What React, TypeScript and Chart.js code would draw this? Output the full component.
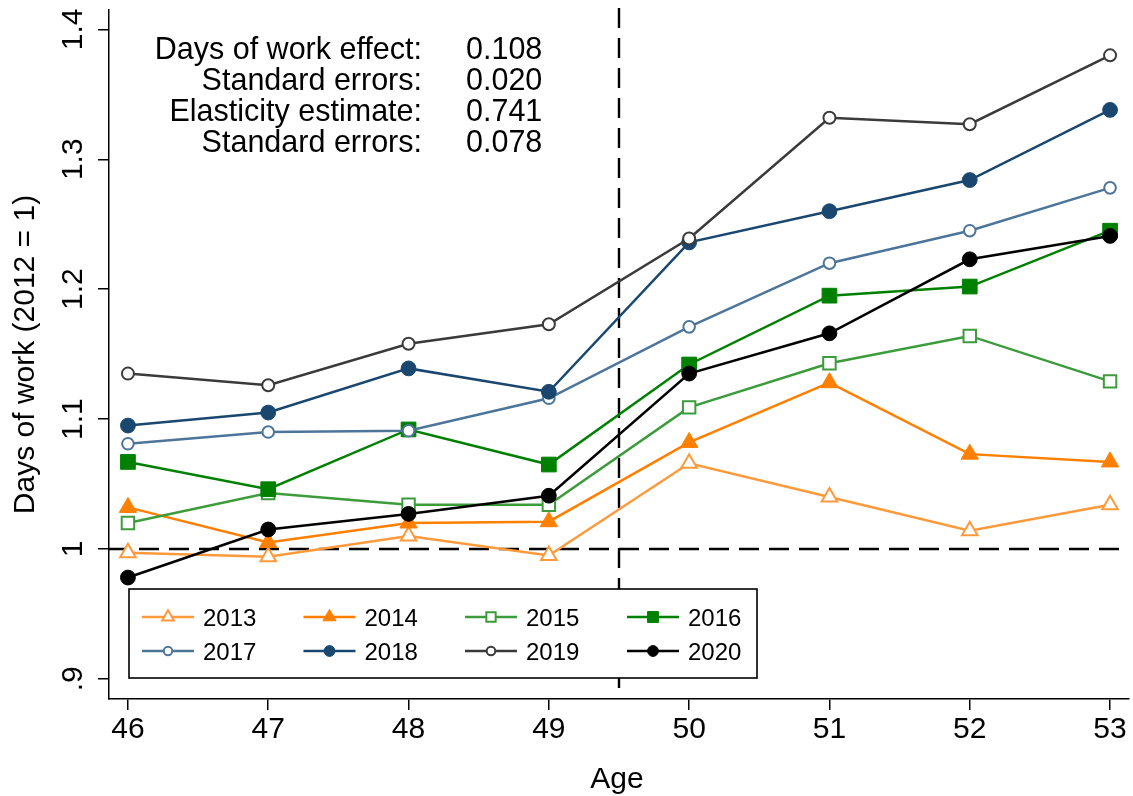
import React, { useEffect, useRef } from "react";
import { Chart, registerables } from "chart.js";

Chart.register(...registerables);

// ---------- data ----------
const ages = [46, 47, 48, 49, 50, 51, 52, 53];
const seriesNames = ["2013", "2014", "2015", "2016", "2017", "2018", "2019", "2020"];
const v2013 = [0.997, 0.994, 1.01, 0.995, 1.066, 1.04, 1.014, 1.034];
const v2014 = [1.032, 1.005, 1.02, 1.021, 1.082, 1.128, 1.073, 1.067];
const v2015 = [1.02, 1.043, 1.034, 1.034, 1.109, 1.143, 1.164, 1.129];
const v2016 = [1.067, 1.046, 1.092, 1.065, 1.142, 1.195, 1.202, 1.245];
const v2017 = [1.081, 1.09, 1.091, 1.116, 1.171, 1.22, 1.245, 1.278];
const v2018 = [1.095, 1.105, 1.139, 1.121, 1.236, 1.26, 1.284, 1.338];
const v2019 = [1.135, 1.126, 1.158, 1.173, 1.239, 1.332, 1.327, 1.38];
const v2020 = [0.978, 1.015, 1.027, 1.041, 1.135, 1.166, 1.223, 1.241];
const seriesValues = [v2013, v2014, v2015, v2016, v2017, v2018, v2019, v2020];

const yTickValues = [0.9, 1, 1.1, 1.2, 1.3, 1.4];
const yTickLabels = [".9", "1", "1.1", "1.2", "1.3", "1.4"];
const xTickValues = ages;
const refLineX = 49.5;
const refLineY = 1;

const statLabels = ["Days of work effect:", "Standard errors:", "Elasticity estimate:", "Standard errors:"];
const statValues = ["0.108", "0.020", "0.741", "0.078"];

const yTitle = "Days of work (2012 = 1)";
const xTitle = "Age";

// ---------- styles ----------
type Shape = "circle" | "rect" | "triangle";
const seriesStyles: { color: string; shape: Shape; filled: boolean; r: number; lr: number }[] = [
  { color: "#ff9a3c", shape: "triangle", filled: false, r: 9, lr: 6.8 },
  { color: "#ff7f00", shape: "triangle", filled: true, r: 10, lr: 7.6 },
  { color: "#3c9c3c", shape: "rect", filled: false, r: 8.8, lr: 6.6 },
  { color: "#008000", shape: "rect", filled: true, r: 10.4, lr: 7.7 },
  { color: "#4d7599", shape: "circle", filled: false, r: 5.8, lr: 4.2 },
  { color: "#1a476f", shape: "circle", filled: true, r: 7.4, lr: 5.4 },
  { color: "#3a3a3a", shape: "circle", filled: false, r: 6, lr: 4.3 },
  { color: "#000000", shape: "circle", filled: true, r: 7.4, lr: 5.4 },
];

const FONT = "'Liberation Sans', Arial, Helvetica, sans-serif";

function drawMarker(
  ctx: CanvasRenderingContext2D,
  shape: Shape,
  x: number,
  y: number,
  r: number,
  color: string,
  filled: boolean
) {
  ctx.save();
  ctx.beginPath();
  if (shape === "circle") {
    ctx.arc(x, y, r, 0, Math.PI * 2);
  } else if (shape === "rect") {
    const s = Math.SQRT1_2 * r;
    ctx.rect(x - s, y - s, 2 * s, 2 * s);
  } else {
    let rad = 0;
    const step = (2 * Math.PI) / 3;
    ctx.moveTo(x + Math.sin(rad) * r, y - Math.cos(rad) * r);
    rad += step;
    ctx.lineTo(x + Math.sin(rad) * r, y - Math.cos(rad) * r);
    rad += step;
    ctx.lineTo(x + Math.sin(rad) * r, y - Math.cos(rad) * r);
    ctx.closePath();
  }
  ctx.fillStyle = filled ? color : "#ffffff";
  ctx.fill();
  ctx.lineWidth = filled ? 1 : 2;
  ctx.strokeStyle = color;
  ctx.stroke();
  ctx.restore();
}

const decorPlugin = {
  id: "decor",
  beforeDatasetsDraw(chart: any) {
    const { ctx, chartArea } = chart;
    const xs = chart.scales.x;
    const ys = chart.scales.y;
    ctx.save();
    ctx.strokeStyle = "#000";
    ctx.lineWidth = 2.4;
    ctx.setLineDash([20, 10]);
    const py = ys.getPixelForValue(refLineY);
    ctx.beginPath();
    ctx.moveTo(chartArea.left, py);
    ctx.lineTo(chartArea.right, py);
    ctx.stroke();
    const px = xs.getPixelForValue(refLineX);
    ctx.beginPath();
    ctx.moveTo(px, chartArea.top - 2);
    ctx.lineTo(px, chartArea.bottom);
    ctx.stroke();
    ctx.restore();
  },
  afterDraw(chart: any) {
    const { ctx, chartArea } = chart;
    const ys = chart.scales.y;
    ctx.save();
    ctx.fillStyle = "#000";
    // y tick labels (rotated)
    ctx.font = `30px ${FONT}`;
    ctx.textAlign = "center";
    ctx.textBaseline = "alphabetic";
    yTickValues.forEach((v, i) => {
      const py = ys.getPixelForValue(v);
      ctx.save();
      ctx.translate(82, py);
      ctx.rotate(-Math.PI / 2);
      ctx.fillText(yTickLabels[i], 0, 0);
      ctx.restore();
    });
    // y title
    ctx.save();
    ctx.translate(33.5, (chartArea.top + chartArea.bottom) / 2);
    ctx.rotate(-Math.PI / 2);
    ctx.fillText(yTitle, 0, 0);
    ctx.restore();
    // x title
    ctx.fillText(xTitle, (chartArea.left + chartArea.right) / 2 - 2, 788);

    // stats text
    ctx.font = `30.5px ${FONT}`;
    statLabels.forEach((t, i) => {
      const by = 59 + i * 31;
      ctx.textAlign = "right";
      ctx.fillText(t, 422, by);
      ctx.textAlign = "left";
      ctx.fillText(statValues[i], 466, by);
    });

    // legend
    const bx = 129, by = 589, bw = 628, bh = 89;
    ctx.fillStyle = "#fff";
    ctx.fillRect(bx, by, bw, bh);
    ctx.strokeStyle = "#000";
    ctx.lineWidth = 1.6;
    ctx.strokeRect(bx, by, bw, bh);
    const colX = [142, 303.5, 465, 627];
    const rowY = [617, 651];
    ctx.font = `24px ${FONT}`;
    ctx.textAlign = "left";
    ctx.textBaseline = "alphabetic";
    seriesNames.forEach((name, i) => {
      const st = seriesStyles[i];
      const cx = colX[i % 4];
      const cy = rowY[Math.floor(i / 4)];
      ctx.save();
      ctx.strokeStyle = st.color;
      ctx.lineWidth = 2.5;
      ctx.beginPath();
      ctx.moveTo(cx, cy);
      ctx.lineTo(cx + 52, cy);
      ctx.stroke();
      ctx.restore();
      drawMarker(ctx, st.shape, cx + 26, cy, st.lr, st.color, st.filled);
      ctx.fillStyle = "#000";
      ctx.fillText(name, cx + 61, cy + 8.6);
    });
    ctx.restore();
  },
};

export default function App() {
  const canvasRef = useRef<HTMLCanvasElement | null>(null);

  useEffect(() => {
    document.body.style.margin = "0";
    const canvas = canvasRef.current;
    if (!canvas) return;

    const datasets = seriesValues.map((vals, i) => {
      const st = seriesStyles[i];
      return {
        label: seriesNames[i],
        data: ages.map((a, j) => ({ x: a, y: vals[j] })),
        borderColor: st.color,
        backgroundColor: st.color,
        borderWidth: 2.5,
        pointStyle: st.shape,
        pointRadius: st.r,
        pointHoverRadius: st.r,
        pointBackgroundColor: st.filled ? st.color : "#ffffff",
        pointBorderColor: st.color,
        pointBorderWidth: st.filled ? 1 : 2,
        tension: 0,
        fill: false,
        clip: false,
        order: seriesValues.length - 1 - i,
      };
    });

    const axisCommon = {
      grid: {
        display: true,
        drawOnChartArea: false,
        drawTicks: true,
        tickLength: 11,
        color: "#000",
        lineWidth: 1.5,
      },
      border: { display: true, color: "#000", width: 1.5 },
    };

    const chart = new Chart(canvas, {
      type: "line",
      data: { datasets },
      plugins: [decorPlugin],
      options: {
        animation: false,
        responsive: false,
        devicePixelRatio: 1,
        events: [],
        layout: { autoPadding: false, padding: { top: 10, right: 4, left: 0, bottom: 0 } },
        plugins: {
          legend: { display: false },
          tooltip: { enabled: false },
          title: { display: false },
        },
        scales: {
          x: {
            type: "linear",
            min: 45.865,
            max: 53.135,
            ...axisCommon,
            afterBuildTicks: (scale: any) => {
              scale.ticks = xTickValues.map((v) => ({ value: v }));
            },
            afterFit: (scale: any) => {
              scale.height = 97;
              scale.paddingLeft = 0;
              scale.paddingRight = 0;
            },
            ticks: {
              color: "#000",
              font: { family: FONT, size: 30 },
              padding: 2,
              maxRotation: 0,
              autoSkip: false,
              callback: (v: any) => String(v),
            },
          },
          y: {
            type: "linear",
            min: 0.8845,
            max: 1.4149,
            ...axisCommon,
            afterBuildTicks: (scale: any) => {
              scale.ticks = yTickValues.map((v) => ({ value: v }));
            },
            afterFit: (scale: any) => {
              scale.width = 109;
              scale.paddingTop = 0;
              scale.paddingBottom = 0;
            },
            ticks: { display: false },
          },
        },
      } as any,
    });

    return () => {
      chart.destroy();
    };
  }, []);

  return (
    <div style={{ width: 1133, height: 796, background: "#fff" }}>
      <canvas ref={canvasRef} width={1133} height={796} style={{ display: "block" }} />
    </div>
  );
}
